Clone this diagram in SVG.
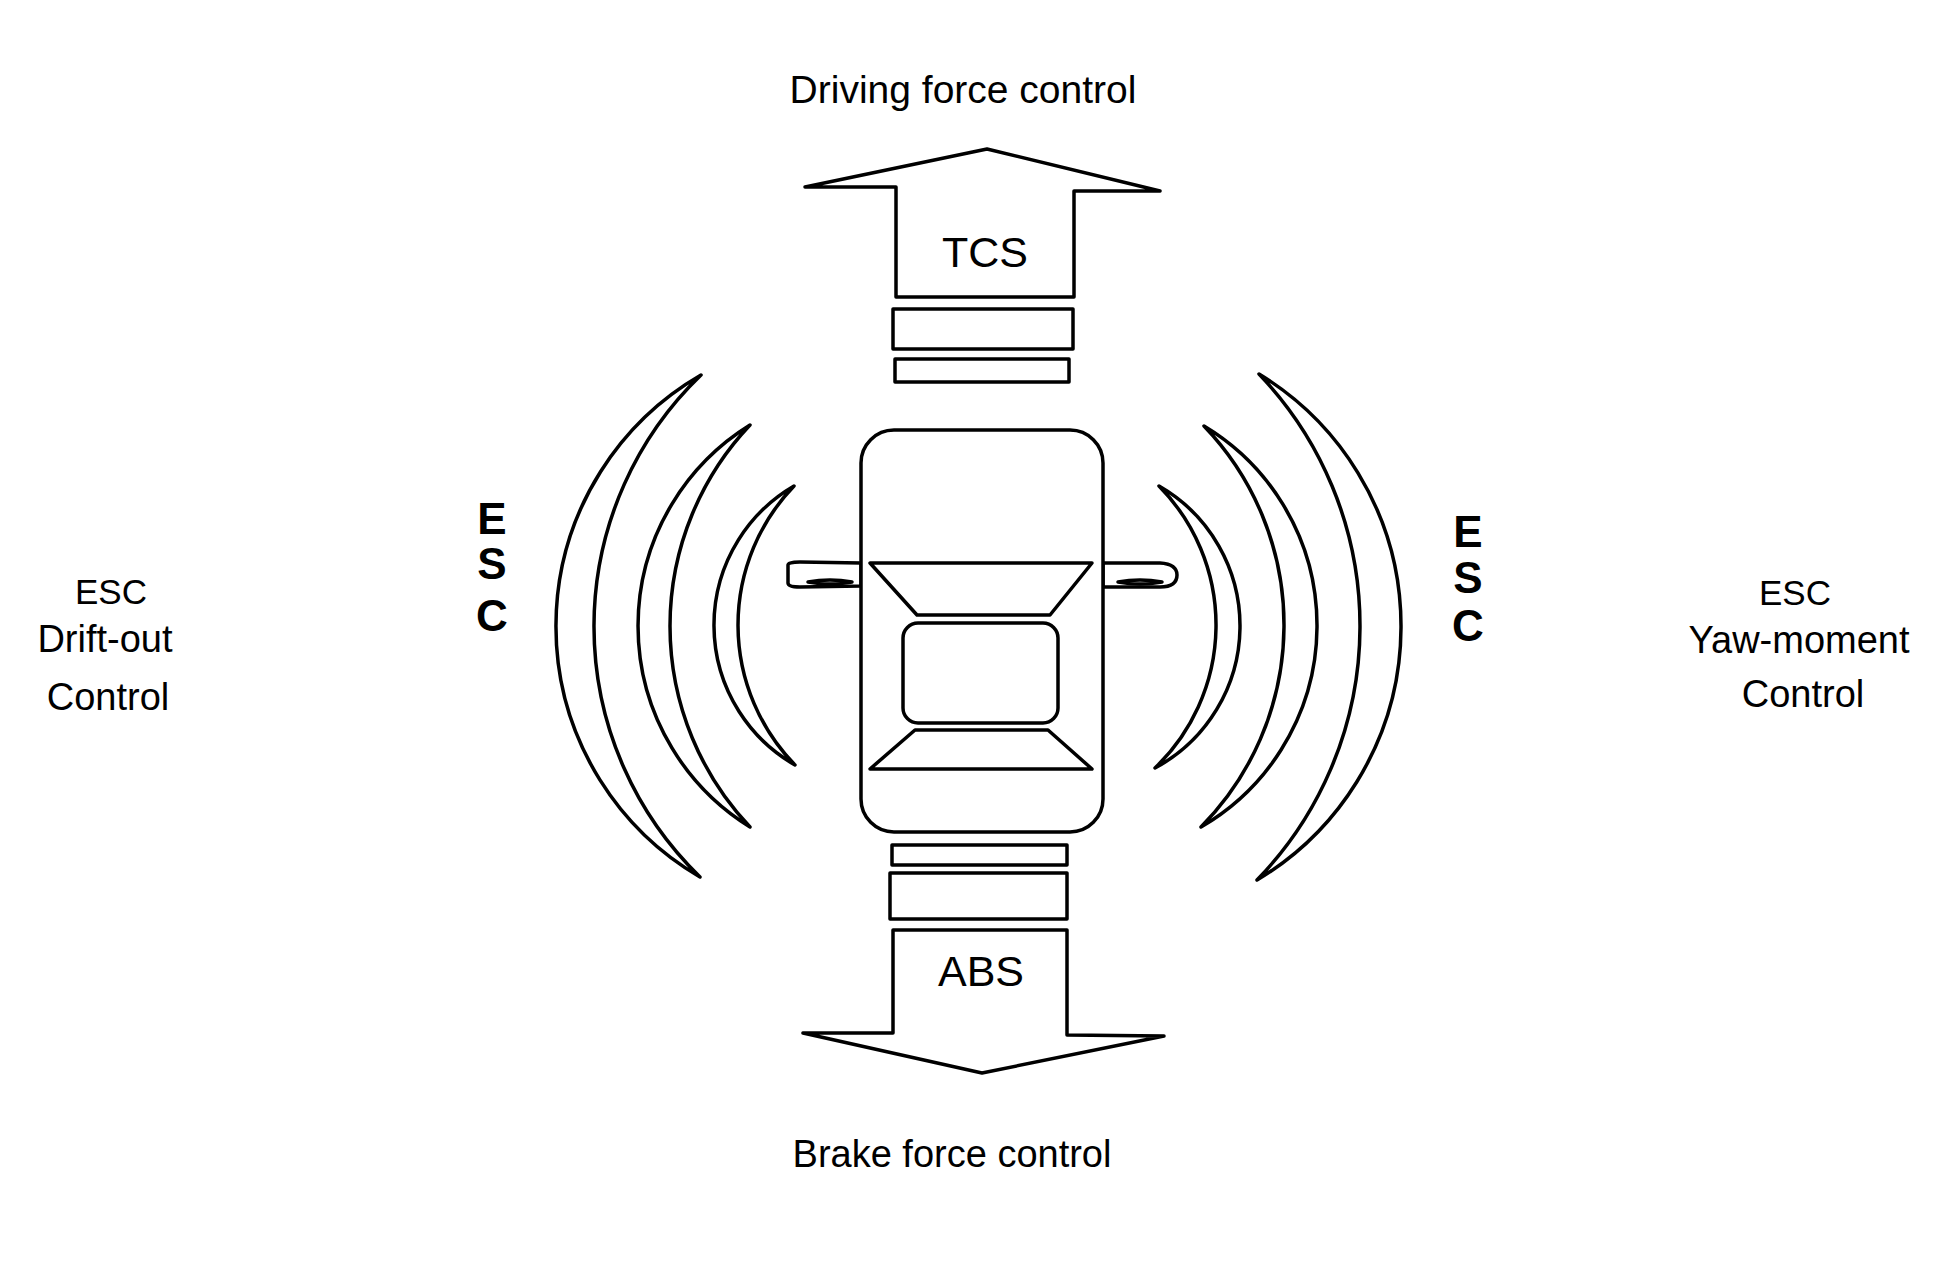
<svg xmlns="http://www.w3.org/2000/svg" width="1950" height="1270" viewBox="0 0 1950 1270">
<style>
.ln{fill:#fff;stroke:#000;stroke-width:3.5;stroke-linejoin:round;stroke-linecap:round}
.tx{font-family:"Liberation Sans",Arial,sans-serif;fill:#000;text-anchor:middle}
.bd{font-family:"Liberation Sans",Arial,sans-serif;font-weight:bold;fill:#000;text-anchor:middle;font-size:44px}
</style>
<rect width="1950" height="1270" fill="#fff"/>
<g id="tcs-arrow">
<path class="ln" d="M896,297 L896,187 L805,187 L987,149 L1160,191 L1074,191 L1074,297 Z"/>
<text class="tx" x="985" y="267" font-size="43">TCS</text>
</g>
<g id="front-bars">
<rect class="ln" x="893" y="309" width="180" height="40"/>
<rect class="ln" x="895" y="359" width="174" height="23"/>
</g>
<g id="car">
<path class="ln" d="M788,565 Q788,562 800,562 L861,563 L861,586 L800,587 Q788,587 788,583 Z"/>
<path class="ln" d="M808,582 Q830,578 852,582 Q830,586 808,582 Z"/>
<path class="ln" d="M1103,563 L1160,563 Q1177,564 1177,575 Q1177,587 1160,587 L1103,587 Z"/>
<path class="ln" d="M1118,582 Q1140,578 1162,582 Q1140,586 1118,582 Z"/>
<rect class="ln" x="861" y="430" width="242" height="402" rx="33"/>
<polygon class="ln" points="870,563 1092,563 1050,615 917,615"/>
<rect class="ln" x="903" y="623" width="155" height="100" rx="15"/>
<polygon class="ln" points="915,730 1048,730 1092,769 870,769"/>
</g>
<g id="rear-bars">
<rect class="ln" x="892" y="845" width="175" height="20"/>
<rect class="ln" x="890" y="873" width="177" height="46"/>
</g>
<g id="abs-arrow">
<path class="ln" d="M893,930 L1067,930 L1067,1035 L1164,1036 L982,1073 L803,1033 L893,1033 Z"/>
<text class="tx" x="981" y="986" font-size="43">ABS</text>
</g>
<g id="left-waves">
<path class="ln" d="M701,375 A290.2,290.2 0 0 0 700,877 A349,349 0 0 1 701,375 Z"/>
<path class="ln" d="M750,425 A236.4,236.4 0 0 0 750,827 A292.5,292.5 0 0 1 750,425 Z"/>
<path class="ln" d="M794,486 A161.1,161.1 0 0 0 795,765 A200.5,200.5 0 0 1 794,486 Z"/>
</g>
<g id="right-waves">
<path class="ln" d="M1259,374 A295.3,295.3 0 0 1 1257,880 A364.8,364.8 0 0 0 1259,374 Z"/>
<path class="ln" d="M1204,426 A232.8,232.8 0 0 1 1201,827 A287.4,287.4 0 0 0 1204,426 Z"/>
<path class="ln" d="M1159,486 A161.3,161.3 0 0 1 1155,768 A198,198 0 0 0 1159,486 Z"/>
</g>
<g id="left-esc">
<text class="bd"><tspan x="492" y="534">E</tspan><tspan x="492" y="579">S</tspan><tspan x="492" y="631">C</tspan></text>
</g>
<g id="right-esc">
<text class="bd"><tspan x="1468" y="547">E</tspan><tspan x="1468" y="593">S</tspan><tspan x="1468" y="641">C</tspan></text>
</g>
<g id="top-label">
<text class="tx" x="963" y="103" font-size="39">Driving force control</text>
</g>
<g id="bottom-label">
<text class="tx" x="952" y="1167" font-size="38">Brake force control</text>
</g>
<g id="left-label">
<text class="tx" x="111" y="604" font-size="35">ESC</text>
<text class="tx" x="105" y="652" font-size="38">Drift-out</text>
<text class="tx" x="108" y="710" font-size="38">Control</text>
</g>
<g id="right-label">
<text class="tx" x="1795" y="605" font-size="35">ESC</text>
<text class="tx" x="1799" y="653" font-size="38">Yaw-moment</text>
<text class="tx" x="1803" y="707" font-size="38">Control</text>
</g>
</svg>
